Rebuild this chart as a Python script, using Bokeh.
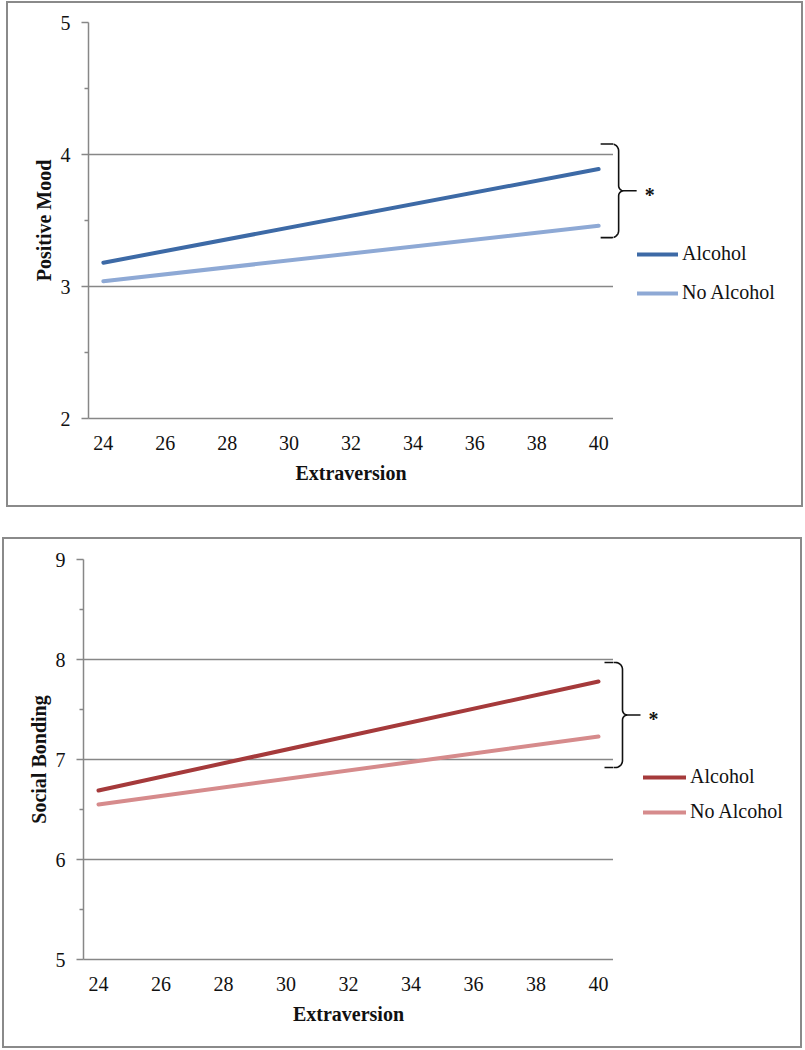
import math
from bokeh.plotting import figure
from bokeh.models import (FixedTicker, Legend, LegendItem, Label, PolyAnnotation, Range1d)
from bokeh.layouts import column, row
from bokeh.embed import file_html
from bokeh.resources import INLINE

# ---------------- data ----------------
extraversion = [24, 40]
x_ticks = [24, 26, 28, 30, 32, 34, 36, 38, 40]
series_labels = ["Alcohol", "No Alcohol"]

mood_alcohol = [3.18, 3.89]
mood_no_alcohol = [3.04, 3.46]
mood_ticks = [2, 3, 4, 5]

bond_alcohol = [6.69, 7.78]
bond_no_alcohol = [6.55, 7.23]
bond_ticks = [5, 6, 7, 8, 9]

# ---------------- style ----------------
FONT = "Liberation Serif"
GRAY = "#878787"
TXT = "#111111"
X0, X1 = 23.52, 40.48


def brace_path(brace_span, brace_px, sx, sy):
    ybot, ytop = brace_span
    ymid = (ytop + ybot) / 2
    Hp = (ytop - ybot) / 2 * sy
    xh, xv, xt = brace_px
    r, rc = 7.0, 5.0
    pts = [(xh, Hp)]
    for k in range(9):
        th = math.radians(90 - k * 90 / 8)
        pts.append((xv - r + r * math.cos(th), Hp - r + r * math.sin(th)))
    for k in range(9):
        th = math.radians(180 + k * 90 / 8)
        pts.append((xv + rc + rc * math.cos(th), rc + rc * math.sin(th)))
    pts.append((xt, 0))
    pts.append((xv + rc, 0))
    for k in range(9):
        th = math.radians(90 + k * 90 / 8)
        pts.append((xv + rc + rc * math.cos(th), -rc + rc * math.sin(th)))
    for k in range(9):
        th = math.radians(0 - k * 90 / 8)
        pts.append((xv - r + r * math.cos(th), -Hp + r + r * math.sin(th)))
    pts.append((xh, -Hp))
    path = pts + pts[::-1][1:-1]
    xs = [extraversion[-1] + px / sx for px, _ in path]
    ys = [ymid + py / sy for _, py in path]
    return xs, ys, ymid


def make_panel(ylabel, alc, noalc, colors, yticks, inner_w, H, fl, ft, fw, fh,
               brace_span, legend_loc, glyph_w, item_gap, brace_px, margin):
    main_w = fl + fw
    side_w = inner_w - main_w
    fb = H - ft - fh
    p = figure(width=main_w, height=H, x_range=Range1d(X0, X1),
               y_range=Range1d(yticks[0], yticks[-1]),
               output_backend="svg", toolbar_location=None,
               min_border_left=fl, min_border_right=0,
               min_border_top=ft, min_border_bottom=fb)
    p.outline_line_color = None
    p.background_fill_color = "white"
    p.border_fill_color = "white"

    # x axis
    xa = p.xaxis[0]
    xa.ticker = FixedTicker(ticks=x_ticks)
    xa.major_tick_out = 0
    xa.major_tick_in = 0
    xa.minor_tick_line_color = None
    xa.axis_line_color = GRAY
    xa.axis_line_width = 1.5
    xa.major_label_text_font = FONT
    xa.major_label_text_font_size = "20px"
    xa.major_label_text_color = TXT
    xa.major_label_standoff = 17
    xa.axis_label = "Extraversion"
    xa.axis_label_text_font = FONT
    xa.axis_label_text_font_style = "bold"
    xa.axis_label_text_font_size = "20px"
    xa.axis_label_text_color = TXT
    xa.axis_label_standoff = 9
    p.xgrid.visible = False

    # y axis
    minors = [(a + b) / 2 for a, b in zip(yticks[:-1], yticks[1:])]
    ya = p.yaxis[0]
    ya.ticker = FixedTicker(ticks=yticks, minor_ticks=minors)
    ya.major_tick_out = 7
    ya.major_tick_in = 0
    ya.minor_tick_out = 4
    ya.minor_tick_in = 0
    ya.major_tick_line_color = GRAY
    ya.minor_tick_line_color = GRAY
    ya.major_tick_line_width = 1.5
    ya.minor_tick_line_width = 1.5
    ya.axis_line_color = GRAY
    ya.axis_line_width = 1.5
    ya.major_label_text_font = FONT
    ya.major_label_text_font_size = "20px"
    ya.major_label_text_color = TXT
    ya.major_label_standoff = 11
    ya.axis_label = ylabel
    ya.axis_label_text_font = FONT
    ya.axis_label_text_font_style = "bold"
    ya.axis_label_text_font_size = "20px"
    ya.axis_label_text_color = TXT
    ya.axis_label_standoff = 3
    p.ygrid.ticker = FixedTicker(ticks=yticks)
    p.ygrid.grid_line_color = GRAY
    p.ygrid.grid_line_width = 1.5

    p.line(extraversion, alc, line_width=4, color=colors[0], line_cap="round")
    p.line(extraversion, noalc, line_width=4, color=colors[1], line_cap="round")

    sx = fw / (X1 - X0)
    sy = fh / (yticks[-1] - yticks[0])

    # side area (legend + brace), same vertical scale as the plot
    s = figure(width=side_w, height=H, x_range=Range1d(X1, X1 + side_w / sx),
               y_range=p.y_range, output_backend="svg", toolbar_location=None,
               x_axis_location=None, y_axis_location=None,
               min_border_left=0, min_border_right=0,
               min_border_top=ft, min_border_bottom=fb)
    s.grid.visible = False
    s.outline_line_color = None
    s.background_fill_color = "white"
    s.border_fill_color = "white"
    l1 = s.line(extraversion, alc, line_width=4, color=colors[0], line_cap="round",
                visible=False)
    l2 = s.line(extraversion, noalc, line_width=4, color=colors[1], line_cap="round",
                visible=False)
    legend = Legend(items=[LegendItem(label=series_labels[0], renderers=[l1]),
                           LegendItem(label=series_labels[1], renderers=[l2])],
                    location=legend_loc, glyph_width=glyph_w, glyph_height=20,
                    label_height=20, spacing=item_gap, padding=0, margin=0,
                    label_standoff=4, label_text_font=FONT,
                    label_text_font_size="20px", label_text_color=TXT,
                    background_fill_alpha=0, border_line_color=None)
    s.add_layout(legend)

    xs, ys, ymid = brace_path(brace_span, brace_px, sx, sy)
    for fig in (p, s):
        fig.add_layout(PolyAnnotation(xs=xs, ys=ys, fill_alpha=0, line_color="#111111",
                                      line_alpha=1.0, line_width=1.6))
    s.add_layout(Label(x=extraversion[-1] + (brace_px[2] + 13) / sx, y=ymid - 4 / sy,
                       text="*", text_font=FONT, text_font_style="bold",
                       text_font_size="20px", text_align="center",
                       text_baseline="middle", text_color=TXT))

    return row(p, s, spacing=0, margin=margin,
               styles={"border": "2px solid #8a8a8a"})


r1 = make_panel("Positive Mood", mood_alcohol, mood_no_alcohol,
                ["#3D6AA6", "#8EA9D5"], mood_ticks,
                inner_w=793, H=502, fl=80, ft=19, fw=525, fh=396,
                brace_span=(3.37, 4.08), legend_loc=(24, 114),
                glyph_w=41, item_gap=16, brace_px=(2, 20, 38), margin=(1, 0, 0, 6))
r2 = make_panel("Social Bonding", bond_alcohol, bond_no_alcohol,
                ["#A53A3B", "#D68B8C"], bond_ticks,
                inner_w=796, H=507, fl=79, ft=20, fw=530, fh=400,
                brace_span=(6.92, 7.97), legend_loc=(30, 136),
                glyph_w=43, item_gap=12, brace_px=(6, 24, 42), margin=(30, 0, 0, 2))

layout = column(r1, r2, spacing=0)
open("out.html", "w").write(file_html(layout, INLINE))
